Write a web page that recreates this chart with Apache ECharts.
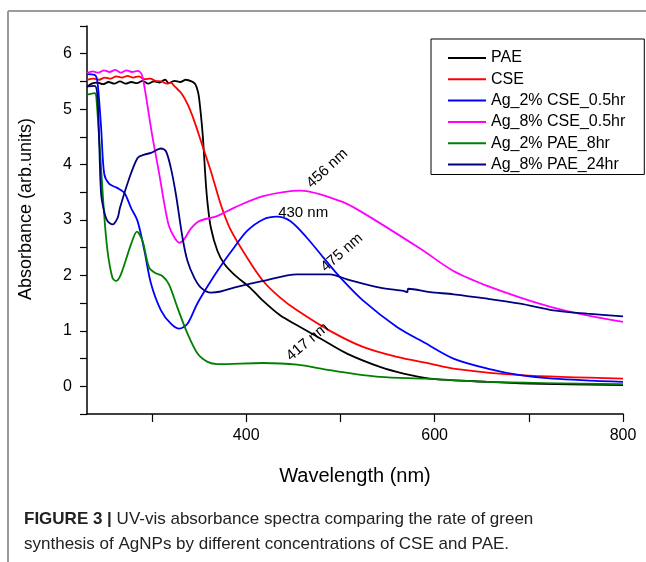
<!DOCTYPE html>
<html lang="en">
<head>
<meta charset="UTF-8">
<title>UV-vis absorbance spectra</title>
<script src="https://cdn.jsdelivr.net/npm/echarts@6/dist/echarts.min.js"></script>
<style>
  html, body { margin: 0; padding: 0; background: #fff; }
  #chart { width: 646px; height: 562px; }
</style>
</head>
<body>
<div id="chart"></div>
<script>
// series names as in the legend
const seriesNames = ['PAE', 'CSE', 'Ag_2% CSE_0.5hr', 'Ag_8% CSE_0.5hr', 'Ag_2% PAE_8hr', 'Ag_8% PAE_24hr'];
const seriesColors = ['#000000', '#ff0000', '#0000ff', '#ff00ff', '#008000', '#000080'];

// [wavelength nm, absorbance]
const pae = [[231, 5.40], [236, 5.46], [242, 5.48], [248, 5.45], [254, 5.49], [260, 5.46], [266, 5.50], [272, 5.46],
  [278, 5.49], [284, 5.47], [290, 5.51], [296, 5.46], [302, 5.50], [308, 5.48], [314, 5.53], [318, 5.47], [324, 5.51],
  [330, 5.49], [336, 5.53], [342, 5.50], [346, 5.45], [349, 5.3], [351, 5.05], [354, 4.5], [357, 3.7], [359, 3.3],
  [362.5, 2.86], [369.5, 2.44], [376.7, 2.21], [387, 2.02], [404, 1.78], [418, 1.54], [436, 1.28], [454, 1.10],
  [482, 0.83], [507, 0.59], [542, 0.35], [567, 0.23], [595, 0.14], [656, 0.08], [700, 0.05], [800, 0.02]];

const cse = [[231, 5.53], [238, 5.55], [244, 5.53], [250, 5.57], [256, 5.55], [262, 5.59], [268, 5.57], [274, 5.60],
  [280, 5.57], [286, 5.59], [292, 5.54], [298, 5.55], [304, 5.51], [310, 5.50], [316, 5.46], [320, 5.48], [324, 5.41],
  [331, 5.29], [338, 5.08], [345, 4.78], [352, 4.42], [362.5, 3.88], [373, 3.28], [383, 2.84], [401, 2.32],
  [418, 1.90], [436, 1.60], [454, 1.37], [489, 1.0], [524, 0.71], [560, 0.53], [595, 0.41], [620, 0.32],
  [691, 0.20], [800, 0.14]];

const ag2Cse = [[231, 5.63], [239, 5.62], [242, 5.5], [246, 4.66], [249.3, 3.83], [254.6, 3.65], [263, 3.58],
  [270.6, 3.49], [277.7, 3.22], [284.7, 2.98], [292, 2.44], [299, 1.85], [309.5, 1.37], [320, 1.13], [329, 1.04],
  [337.7, 1.13], [348, 1.49], [362.5, 1.90], [376.7, 2.26], [387, 2.50], [400.7, 2.80], [418, 3.01], [432.6, 3.06],
  [446.7, 2.98], [464.4, 2.68], [482, 2.32], [500, 1.96], [524.5, 1.54], [560, 1.07], [590, 0.78], [620, 0.50],
  [656, 0.32], [691, 0.20], [726, 0.14], [800, 0.08]];

const ag8Cse = [[231, 5.65], [237, 5.68], [243, 5.66], [249, 5.70], [255, 5.67], [261, 5.71], [267, 5.66],
  [273, 5.70], [279, 5.67], [285, 5.69], [289, 5.63], [292, 5.4], [300, 4.55], [308, 3.8], [313, 3.3], [318, 2.89],
  [324, 2.68], [329, 2.59], [334, 2.65], [341, 2.84], [350, 2.98], [369, 3.07], [387, 3.22], [418, 3.43],
  [458, 3.53], [500, 3.34], [521, 3.16], [585, 2.48], [620, 2.08], [656, 1.81], [691, 1.60], [726, 1.42],
  [762, 1.28], [800, 1.16]];

const ag2Pae = [[231, 5.26], [239, 5.29], [241, 5.2], [249, 3.15], [252.8, 2.44], [258, 1.96], [261.8, 1.90],
  [267, 2.02], [277.7, 2.56], [284, 2.79], [290, 2.62], [297, 2.14], [304, 2.04], [311, 1.99], [318, 1.84],
  [327, 1.42], [337.7, 0.95], [348.3, 0.59], [359, 0.44], [369.5, 0.40], [418, 0.42], [454, 0.39], [489, 0.29],
  [542, 0.17], [590, 0.14], [656, 0.08], [800, 0.04]];

const ag8Pae = [[231, 5.41], [239, 5.42], [242, 5.26], [244, 4.37], [246, 3.47], [249.3, 3.15], [252.8, 2.98],
  [258, 2.92], [263.5, 3.04], [266, 3.22], [274.8, 3.70], [284.7, 4.12], [291.8, 4.18], [298.9, 4.21],
  [309.5, 4.29], [314.8, 4.24], [320, 3.94], [325.4, 3.46], [332.4, 2.68], [337.7, 2.26], [344.8, 1.96],
  [351.9, 1.78], [362.5, 1.69], [373, 1.71], [387, 1.78], [418, 1.90], [454, 2.02], [489, 2.02], [507, 1.93],
  [542, 1.78], [567, 1.72], [571, 1.70], [572, 1.76], [595, 1.70], [620, 1.66], [656, 1.58], [691, 1.49],
  [726, 1.37], [762, 1.31], [800, 1.26]];

const seriesData = [pae, cse, ag2Cse, ag8Cse, ag2Pae, ag8Pae];

// peak annotations: text, anchor [nm, absorbance], angle, series index it belongs to
const peakTexts = ['456 nm', '430 nm', '475 nm', '417 nm'];
const peakAnchors = [[486, 3.93], [460.5, 3.13], [501.5, 2.41], [465, 0.80]];
const peakAngles = [43, 0, 41, 40];
const peakSeries = [3, 2, 5, 0];

const xTicks = [300, 400, 500, 600, 700, 800];
const xLabels = [400, 600, 800];

const font = '"Liberation Sans", Arial, sans-serif';

let chart = echarts.init(document.getElementById('chart'), null, { renderer: 'canvas' });

let series = seriesNames.map((name, i) => {
  let marks = [];
  peakTexts.forEach((t, k) => {
    if (peakSeries[k] === i) {
      marks.push({
        coord: peakAnchors[k],
        label: { formatter: t, rotate: peakAngles[k] }
      });
    }
  });
  return {
    name: name,
    type: 'line',
    data: seriesData[i],
    showSymbol: false,
    smooth: 0.3,
    lineStyle: { color: seriesColors[i], width: 1.8 },
    itemStyle: { color: seriesColors[i] },
    emphasis: { disabled: true },
    markPoint: marks.length ? {
      symbol: 'circle',
      symbolSize: 0,
      silent: true,
      label: {
        show: true,
        position: 'inside',
        color: '#000',
        fontSize: 15,
        fontFamily: font
      },
      data: marks
    } : undefined
  };
});

let option = {
  backgroundColor: '#fff',
  animation: false,
  textStyle: { fontFamily: font },
  grid: { left: 87, right: 23, top: 26, bottom: 148 },
  legend: {
    orient: 'vertical',
    left: 431,
    top: 39,
    data: seriesNames,
    icon: 'rect',
    itemWidth: 38,
    itemHeight: 2,
    itemGap: 3.3,
    padding: [10, 19, 1, 17],
    borderColor: '#000',
    borderWidth: 1,
    backgroundColor: '#fff',
    textStyle: { fontSize: 16, color: '#000', fontFamily: font, lineHeight: 18 }
  },
  xAxis: {
    type: 'value',
    min: 231,
    max: 800,
    name: 'Wavelength (nm)',
    nameLocation: 'middle',
    nameGap: 52,
    nameTextStyle: { fontSize: 20, color: '#000', fontFamily: font },
    axisLine: { onZero: false, lineStyle: { color: '#000', width: 1.5 } },
    axisTick: { customValues: xTicks, length: 8, lineStyle: { color: '#000', width: 1.2 } },
    axisLabel: { customValues: xLabels, margin: 14, fontSize: 16, color: '#000', fontFamily: font },
    splitLine: { show: false }
  },
  yAxis: {
    type: 'value',
    min: -0.5,
    max: 6.5,
    interval: 0.5,
    name: 'Absorbance (arb.units)',
    nameLocation: 'middle',
    nameGap: 52,
    nameTextStyle: { fontSize: 18, color: '#000', fontFamily: font, padding: [0, 0, 0, 22] },
    axisLine: { show: true, onZero: false, lineStyle: { color: '#000', width: 1.5 } },
    axisTick: { show: true, length: 7, lineStyle: { color: '#000', width: 1.2 } },
    axisLabel: {
      margin: 15,
      fontSize: 16,
      color: '#000',
      fontFamily: font,
      formatter: v => (Math.abs(v - Math.round(v)) < 1e-6 ? String(Math.round(v)) : '')
    },
    splitLine: { show: false }
  },
  graphic: [
    { type: 'line', shape: { x1: 8, y1: 11, x2: 646, y2: 11 }, style: { stroke: '#9a9a9a', lineWidth: 2 } },
    { type: 'line', shape: { x1: 8, y1: 11, x2: 8, y2: 562 }, style: { stroke: '#9a9a9a', lineWidth: 2 } },
    {
      type: 'text', left: 24, top: 511,
      style: {
        text: '{b|FIGURE 3 |} UV-vis absorbance spectra comparing the rate of green',
        font: '17px ' + font,
        fill: '#222',
        rich: { b: { fontWeight: 'bold', fontSize: 17, fontFamily: font, fill: '#222' } }
      }
    },
    {
      type: 'text', left: 24, top: 536,
      style: {
        text: 'synthesis of AgNPs by different concentrations of CSE and PAE.',
        font: '17px ' + font,
        fill: '#222'
      }
    }
  ],
  series: series
};

chart.setOption(option);
</script>
</body>
</html>
